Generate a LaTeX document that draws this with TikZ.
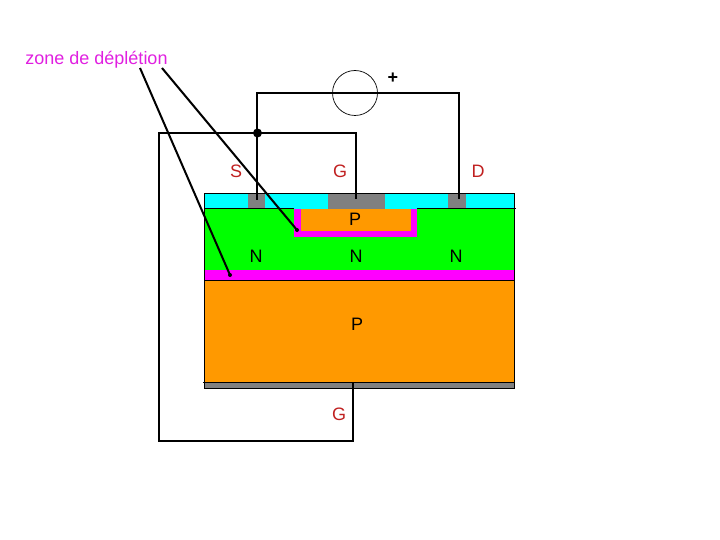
\documentclass[tikz,border=0pt]{standalone}
\usepackage{fontspec}
\setmainfont{Liberation Sans}
\definecolor{oxideColor}{HTML}{00FFFF}
\definecolor{nColor}{HTML}{00FF00}
\definecolor{pColor}{HTML}{FF9900}
\definecolor{depletionColor}{HTML}{FF00FF}
\definecolor{metalColor}{HTML}{808080}
\definecolor{zoneColor}{HTML}{E020E0}
\definecolor{pinColor}{HTML}{C02020}
\tikzset{
	wire/.style={black, line width=2pt},
	outline/.style={black, line width=1pt},
	regionlabel/.style={font=\fontsize{18}{20}\selectfont, text=black, inner sep=0pt},
	pinlabel/.style={font=\fontsize{18}{20}\selectfont, text=pinColor, inner sep=0pt}
}

\begin{document}
\begin{tikzpicture}[x=1pt, y=-1pt, line cap=butt, line join=miter]
	\useasboundingbox (0, 0) rectangle (720, 540);
	% layers
	\fill[oxideColor] (204, 194) rectangle (514, 209);
	\fill[nColor] (204, 209) rectangle (514, 270);
	\fill[depletionColor] (204, 270) rectangle (515, 280);
	\fill[pColor] (204, 280) rectangle (514, 382);
	\fill[metalColor] (204, 382) rectangle (514, 388);
	% channel well
	\fill[depletionColor] (294, 209) rectangle (417, 237);
	\fill[pColor] (301, 209) rectangle (411, 231);
	% contacts
	\foreach \xa/\xb in {248/265, 328/385, 448/466} {
		\fill[metalColor] (\xa, 194) rectangle (\xb, 209);
	}
	% outlines
	\draw[outline] (204, 194) rectangle (514, 388);
	\draw[outline] (204, 209) -- (294, 209);
	\draw[outline] (417, 209) -- (516, 209);
	\draw[outline] (204, 280) -- (514, 280);
	\draw[outline] (203, 382) -- (514, 382);

	% voltage source
	\node[circle, draw=black, line width=0.7pt, minimum size=45pt, inner sep=0pt] (source) at (355, 93) {};
	\node[font=\fontsize{18}{20}\selectfont\bfseries, inner sep=0pt] (plus) at (393, 78) {+};

	% wiring
	\coordinate (sourceCorner) at (257, 93);
	\coordinate (drainCorner) at (459, 93);
	\coordinate (sourcePin) at (257, 200);
	\coordinate (gatePin) at (355.5, 199);
	\coordinate (drainPin) at (459, 199);
	\coordinate (junction) at (257.5, 133);
	\coordinate (gateCorner) at (355.5, 133);
	\coordinate (backLeftTop) at (159, 133);
	\coordinate (backLeftBottom) at (159, 440.5);
	\coordinate (backRight) at (353, 440.5);
	\coordinate (backPin) at (353, 382);
	\draw[wire] (source.center) -- (sourceCorner) -- (sourcePin);
	\draw[wire] (source.center) -- (drainCorner) -- (drainPin);
	\draw[wire] (junction) -- (gateCorner) -- (gatePin);
	\draw[wire] (junction) -- (backLeftTop) -- (backLeftBottom) -- (backRight) -- (backPin);
	\fill[black] (junction) circle (4.5pt);

	% depletion pointers
	\node[font=\fontsize{18}{20}\selectfont, text=zoneColor, inner sep=0pt] (zone) at (96.5, 59.5) {zone de déplétion};
	\coordinate (zoneA) at (140, 68);
	\coordinate (zoneB) at (162, 68);
	\coordinate (bulkTip) at (230, 275);
	\coordinate (wellTip) at (297, 230);
	\draw[wire] (zoneA) -- (bulkTip);
	\draw[wire] (zoneB) -- (wellTip);
	\fill[black] (bulkTip) circle (2pt);
	\fill[black] (wellTip) circle (2pt);

	% labels
	\node[pinlabel] (pinS) at (236, 171) {S};
	\node[pinlabel] (pinG) at (340, 171) {G};
	\node[pinlabel] (pinD) at (478, 171) {D};
	\node[pinlabel] (pinBack) at (339, 414) {G};
	\node[regionlabel] (wellP) at (355, 219) {P};
	\node[regionlabel] (bulkP) at (357, 324) {P};
	\foreach \name/\xpos in {nLeft/256, nMid/356, nRight/456} {
		\node[regionlabel] (\name) at (\xpos, 256) {N};
	}
\end{tikzpicture}
\end{document}
